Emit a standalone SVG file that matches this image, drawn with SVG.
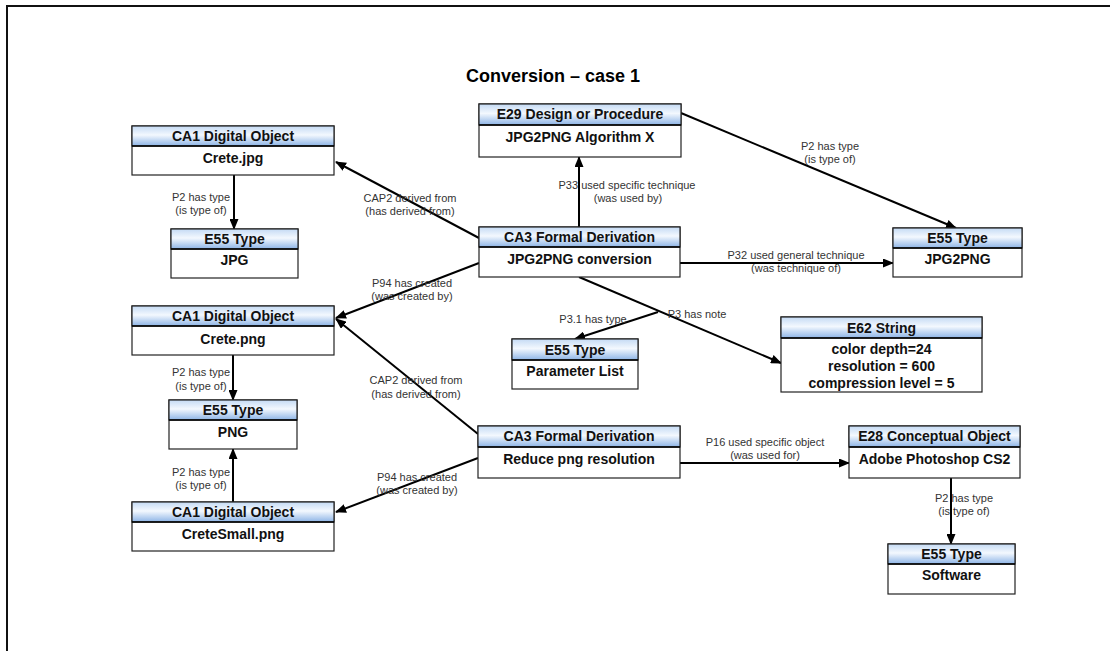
<svg xmlns="http://www.w3.org/2000/svg" width="1110" height="651" viewBox="0 0 1110 651">
  <defs>
    <linearGradient id="hdr" x1="0" y1="0" x2="0" y2="1">
      <stop offset="0" stop-color="#c4daf4"/>
      <stop offset="0.45" stop-color="#f3f8fe"/>
      <stop offset="1" stop-color="#8db4e6"/>
    </linearGradient>
    <marker id="arr" markerUnits="userSpaceOnUse" markerWidth="11" markerHeight="9" refX="10" refY="4.5" orient="auto">
      <path d="M0,0 L11,4.5 L0,9 z" fill="#000"/>
    </marker>
    <style>
      .box { fill: #fff; stroke: #222; stroke-width: 1.2; }
      .hdr { fill: url(#hdr); stroke: #222; stroke-width: 1.2; }
      .sep { stroke: #000; stroke-width: 1.6; }
      .nt { font-family: "Liberation Sans", Arial, sans-serif; font-weight: bold; font-size: 14px; fill: #111; text-anchor: middle; }
      .edge { stroke: #000; stroke-width: 2; fill: none; marker-end: url(#arr); }
      .lbl { font-family: "Liberation Sans", Arial, sans-serif; font-size: 11px; fill: #333; text-anchor: middle; }
      .title { font-family: "Liberation Sans", Arial, sans-serif; font-weight: bold; font-size: 18px; fill: #000; text-anchor: middle; }
    </style>
  </defs>

  <rect x="0" y="0" width="1110" height="651" fill="#fff"/>
  <!-- page frame, running off the right and bottom edges -->
  <rect x="7" y="6" width="1130" height="680" fill="none" stroke="#111" stroke-width="2"/>

  <text class="title" x="553" y="82">Conversion – case 1</text>

  <!-- connectors -->
  <g id="connectors">
    <line class="edge" x1="479" y1="238" x2="336" y2="162"/>
    <line class="edge" x1="579" y1="227" x2="579" y2="157"/>
    <line class="edge" x1="681" y1="113" x2="956" y2="228"/>
    <line class="edge" x1="680" y1="263" x2="893" y2="263"/>
    <line class="edge" x1="479" y1="263" x2="336" y2="318"/>
    <line class="edge" x1="579" y1="277" x2="781" y2="363"/>
    <line class="edge" x1="658" y1="312" x2="575" y2="339"/>
    <line class="edge" x1="234" y1="175" x2="234" y2="229"/>
    <line class="edge" x1="233" y1="355" x2="233" y2="400"/>
    <line class="edge" x1="233" y1="502" x2="233" y2="449"/>
    <line class="edge" x1="478" y1="434" x2="336" y2="319"/>
    <line class="edge" x1="478" y1="458" x2="336" y2="512"/>
    <line class="edge" x1="680" y1="463" x2="849" y2="463"/>
    <line class="edge" x1="951" y1="478" x2="951" y2="544"/>

    <text class="lbl" x="410" y="202">CAP2 derived from</text>
    <text class="lbl" x="410" y="215">(has derived from)</text>
    <text class="lbl" x="627" y="189">P33 used specific technique</text>
    <text class="lbl" x="628" y="202">(was used by)</text>
    <text class="lbl" x="830" y="150">P2 has type</text>
    <text class="lbl" x="830" y="163">(is type of)</text>
    <text class="lbl" x="796" y="259">P32 used general technique</text>
    <text class="lbl" x="796" y="272">(was technique of)</text>
    <text class="lbl" x="412" y="287">P94 has created</text>
    <text class="lbl" x="412" y="300">(was created by)</text>
    <text class="lbl" x="697" y="318">P3 has note</text>
    <text class="lbl" x="593" y="323">P3.1 has type</text>
    <text class="lbl" x="201" y="201">P2 has type</text>
    <text class="lbl" x="201" y="214">(is type of)</text>
    <text class="lbl" x="201" y="376">P2 has type</text>
    <text class="lbl" x="201" y="390">(is type of)</text>
    <text class="lbl" x="201" y="476">P2 has type</text>
    <text class="lbl" x="201" y="489">(is type of)</text>
    <text class="lbl" x="416" y="384">CAP2 derived from</text>
    <text class="lbl" x="416" y="398">(has derived from)</text>
    <text class="lbl" x="417" y="481">P94 has created</text>
    <text class="lbl" x="417" y="494">(was created by)</text>
    <text class="lbl" x="765" y="446">P16 used specific object</text>
    <text class="lbl" x="765" y="459">(was used for)</text>
    <text class="lbl" x="964" y="502">P2 has type</text>
    <text class="lbl" x="964" y="515">(is type of)</text>
  </g>

  <!-- nodes -->
  <g id="crete-jpg">
    <rect class="box" x="132" y="126" width="202" height="49"/>
    <rect class="hdr" x="132" y="126" width="202" height="20"/>
    <line class="sep" x1="132" y1="146" x2="334" y2="146"/>
    <text class="nt" x="233" y="141">CA1 Digital Object</text>
    <text class="nt" x="233" y="163">Crete.jpg</text>
  </g>

  <g id="type-jpg">
    <rect class="box" x="171" y="229" width="127" height="49"/>
    <rect class="hdr" x="171" y="229" width="127" height="20"/>
    <line class="sep" x1="171" y1="249" x2="298" y2="249"/>
    <text class="nt" x="234.5" y="244">E55 Type</text>
    <text class="nt" x="234.5" y="265">JPG</text>
  </g>

  <g id="algorithm">
    <rect class="box" x="479" y="104" width="202" height="53"/>
    <rect class="hdr" x="479" y="104" width="202" height="21"/>
    <line class="sep" x1="479" y1="125" x2="681" y2="125"/>
    <text class="nt" x="580" y="119">E29 Design or Procedure</text>
    <text class="nt" x="580" y="142">JPG2PNG Algorithm X</text>
  </g>

  <g id="conversion">
    <rect class="box" x="479" y="227" width="201" height="50"/>
    <rect class="hdr" x="479" y="227" width="201" height="20"/>
    <line class="sep" x1="479" y1="247" x2="680" y2="247"/>
    <text class="nt" x="579.5" y="242">CA3 Formal Derivation</text>
    <text class="nt" x="579.5" y="264">JPG2PNG conversion</text>
  </g>

  <g id="type-jpg2png">
    <rect class="box" x="893" y="228" width="129" height="49"/>
    <rect class="hdr" x="893" y="228" width="129" height="20"/>
    <line class="sep" x1="893" y1="248" x2="1022" y2="248"/>
    <text class="nt" x="957.5" y="243">E55 Type</text>
    <text class="nt" x="957.5" y="264">JPG2PNG</text>
  </g>

  <g id="type-params">
    <rect class="box" x="512" y="339" width="126" height="50"/>
    <rect class="hdr" x="512" y="339" width="126" height="21"/>
    <line class="sep" x1="512" y1="360" x2="638" y2="360"/>
    <text class="nt" x="575" y="355">E55 Type</text>
    <text class="nt" x="575" y="376">Parameter List</text>
  </g>

  <g id="note-string">
    <rect class="box" x="781" y="317" width="201" height="75"/>
    <rect class="hdr" x="781" y="317" width="201" height="21"/>
    <line class="sep" x1="781" y1="338" x2="982" y2="338"/>
    <text class="nt" x="881.5" y="333">E62 String</text>
    <text class="nt" x="881.5" y="354">color depth=24</text>
    <text class="nt" x="881.5" y="371">resolution = 600</text>
    <text class="nt" x="881.5" y="388">compression level = 5</text>
  </g>

  <g id="crete-png">
    <rect class="box" x="132" y="306" width="202" height="49"/>
    <rect class="hdr" x="132" y="306" width="202" height="20"/>
    <line class="sep" x1="132" y1="326" x2="334" y2="326"/>
    <text class="nt" x="233" y="321">CA1 Digital Object</text>
    <text class="nt" x="233" y="344">Crete.png</text>
  </g>

  <g id="type-png">
    <rect class="box" x="169" y="400" width="128" height="49"/>
    <rect class="hdr" x="169" y="400" width="128" height="20"/>
    <line class="sep" x1="169" y1="420" x2="297" y2="420"/>
    <text class="nt" x="233" y="415">E55 Type</text>
    <text class="nt" x="233" y="437">PNG</text>
  </g>

  <g id="crete-small">
    <rect class="box" x="132" y="502" width="202" height="49"/>
    <rect class="hdr" x="132" y="502" width="202" height="20"/>
    <line class="sep" x1="132" y1="522" x2="334" y2="522"/>
    <text class="nt" x="233" y="517">CA1 Digital Object</text>
    <text class="nt" x="233" y="539">CreteSmall.png</text>
  </g>

  <g id="reduce">
    <rect class="box" x="478" y="426" width="202" height="52"/>
    <rect class="hdr" x="478" y="426" width="202" height="21"/>
    <line class="sep" x1="478" y1="447" x2="680" y2="447"/>
    <text class="nt" x="579" y="441">CA3 Formal Derivation</text>
    <text class="nt" x="579" y="464">Reduce png resolution</text>
  </g>

  <g id="photoshop">
    <rect class="box" x="849" y="426" width="171" height="52"/>
    <rect class="hdr" x="849" y="426" width="171" height="21"/>
    <line class="sep" x1="849" y1="447" x2="1020" y2="447"/>
    <text class="nt" x="934.5" y="441">E28 Conceptual Object</text>
    <text class="nt" x="934.5" y="464">Adobe Photoshop CS2</text>
  </g>

  <g id="type-software">
    <rect class="box" x="888" y="544" width="127" height="50"/>
    <rect class="hdr" x="888" y="544" width="127" height="20"/>
    <line class="sep" x1="888" y1="564" x2="1015" y2="564"/>
    <text class="nt" x="951.5" y="559">E55 Type</text>
    <text class="nt" x="951.5" y="580">Software</text>
  </g>
</svg>
